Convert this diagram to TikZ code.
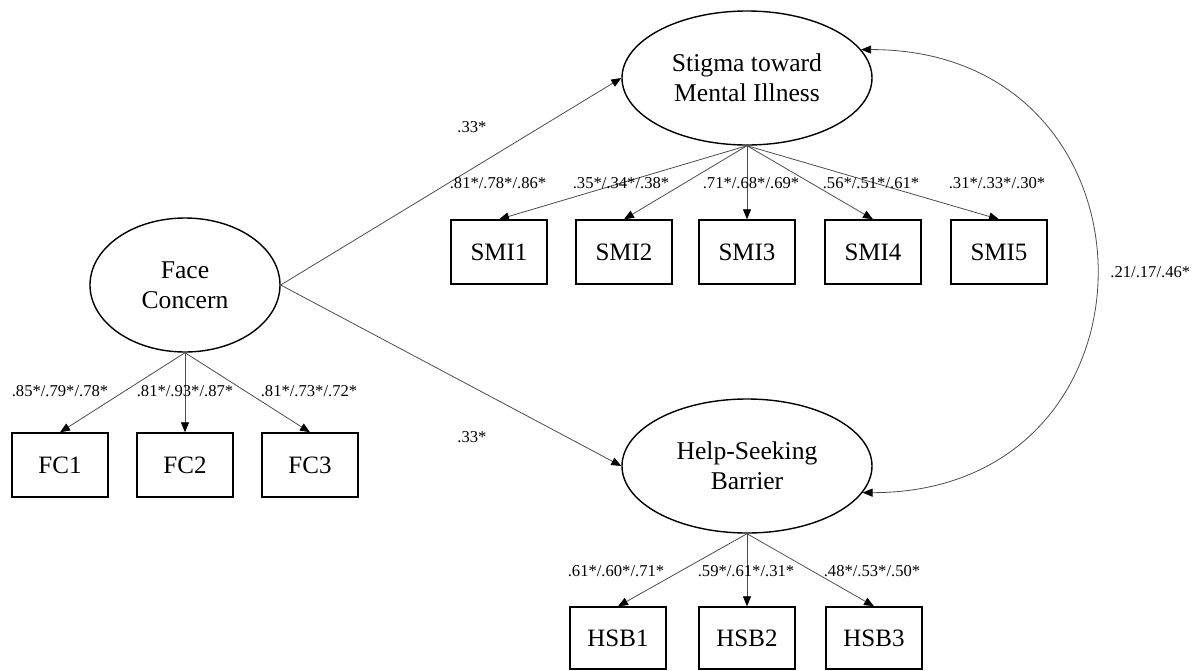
\documentclass[tikz,border=0pt]{standalone}
\usepackage{fontspec}
\setmainfont{Liberation Serif}
\usetikzlibrary{arrows.meta,shapes.geometric}

\begin{document}
\begin{tikzpicture}[
  x=0.5pt, y=-0.5pt,
  lat/.style={draw, ellipse, line width=0.7pt, inner sep=0pt, align=center,
              font=\fontsize{12.8}{15}\selectfont},
  ind/.style={draw, rectangle, line width=0.7pt, inner sep=0pt,
              minimum width=48pt, minimum height=32pt,
              font=\fontsize{12.5}{15}\selectfont},
  coef/.style={inner sep=0pt, font=\fontsize{8.3}{10}\selectfont},
  arr/.style={-{Triangle[length=5pt,width=4pt,black]}, line width=0.4pt, black!70},
  cov/.style={{Triangle[length=5pt,width=4pt,black]}-{Triangle[length=5pt,width=4pt,black]},
              line width=0.4pt, black!70}]

\useasboundingbox (0,0) rectangle (1195,670);

\node[lat, minimum width=95pt, minimum height=67pt] (fc)  at (185,285) {Face\\Concern};
\node[lat, minimum width=125pt, minimum height=67pt] (smi) at (747,78) {Stigma toward\\Mental Illness};
\node[lat, minimum width=125pt, minimum height=67pt] (hsb) at (747,466) {Help-Seeking\\Barrier};

\node[ind] (fc1) at (60,465)  {FC1};
\node[ind] (fc2) at (185,465) {FC2};
\node[ind] (fc3) at (310,465) {FC3};

\node[ind] (smi1) at (499,252) {SMI1};
\node[ind] (smi2) at (624,252) {SMI2};
\node[ind] (smi3) at (747,252) {SMI3};
\node[ind] (smi4) at (873,252) {SMI4};
\node[ind] (smi5) at (999,252) {SMI5};

\node[ind, minimum height=31pt] (hsb1) at (618,638) {HSB1};
\node[ind, minimum height=31pt] (hsb2) at (747,638) {HSB2};
\node[ind, minimum height=31pt] (hsb3) at (874,638) {HSB3};

% structural paths
\draw[arr] (fc.east) -- (smi.west);
\draw[arr] (fc.east) -- (hsb.west);
\draw[cov] (smi.14) .. controls +(312,0) and +(312,0) .. (hsb.-13);

% loadings
\draw[arr] (fc.south) -- (fc1.north);
\draw[arr] (fc.south) -- (fc2.north);
\draw[arr] (fc.south) -- (fc3.north);
\draw[arr] (smi.south) -- (smi1.north);
\draw[arr] (smi.south) -- (smi2.north);
\draw[arr] (smi.south) -- (smi3.north);
\draw[arr] (smi.south) -- (smi4.north);
\draw[arr] (smi.south) -- (smi5.north);
\draw[arr] (hsb.south) -- (hsb1.north);
\draw[arr] (hsb.south) -- (hsb2.north);
\draw[arr] (hsb.south) -- (hsb3.north);

\node[coef] (b1) at (472,127) {.33*};
\node[coef] (b2) at (472,437) {.33*};
\node[coef, anchor=west] (r1) at (1110,272) {.21/.17/.46*};

\node[coef] (l1) at (60,391)  {.85*/.79*/.78*};
\node[coef] (l2) at (185,391) {.81*/.93*/.87*};
\node[coef] (l3) at (309,391) {.81*/.73*/.72*};
\node[coef] (l4) at (498,183) {.81*/.78*/.86*};
\node[coef] (l5) at (621,183) {.35*/.34*/.38*};
\node[coef] (l6) at (751,183) {.71*/.68*/.69*};
\node[coef] (l7) at (871,183) {.56*/.51*/.61*};
\node[coef] (l8) at (997,183) {.31*/.33*/.30*};
\node[coef] (l9) at (616,571) {.61*/.60*/.71*};
\node[coef] (l10) at (746,571) {.59*/.61*/.31*};
\node[coef] (l11) at (872,571) {.48*/.53*/.50*};
\end{tikzpicture}
\end{document}
